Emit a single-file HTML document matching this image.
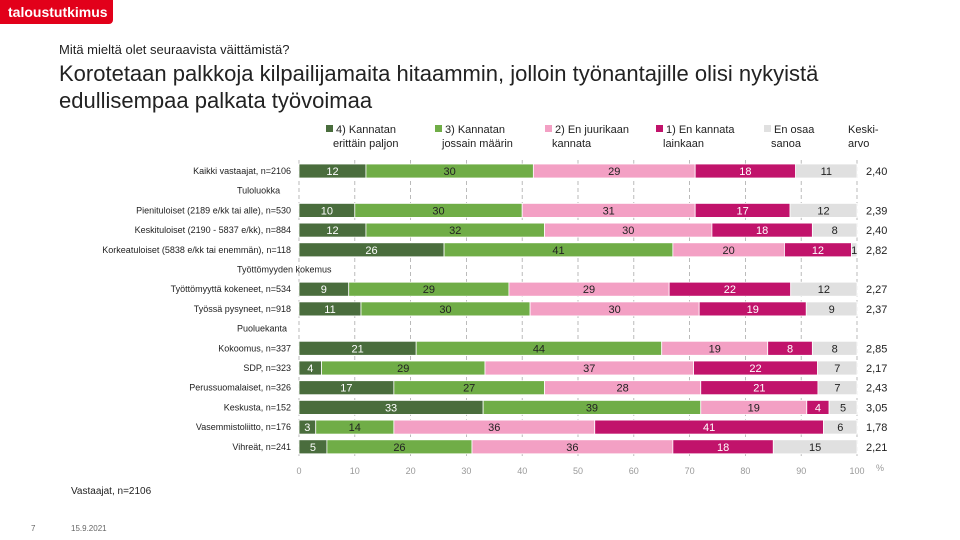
<!DOCTYPE html>
<html><head><meta charset="utf-8"><style>
body{margin:0;width:960px;height:540px;background:#fff;font-family:"Liberation Sans",sans-serif;position:relative;overflow:hidden}
.a{position:absolute;white-space:nowrap}
</style></head><body>
<div class="a" style="left:0;top:0;width:113px;height:24px;background:#e2001a;border-radius:0 0 4px 0;color:#fff;font-size:14px;font-weight:bold;line-height:24px;padding-left:8px;box-sizing:border-box">taloustutkimus</div>
<div class="a" style="left:59px;top:42px;font-size:13px;color:#222">Mitä mieltä olet seuraavista väittämistä?</div>
<div class="a" style="left:59px;top:60px;font-size:22px;line-height:27px;color:#222;white-space:normal;width:820px">Korotetaan palkkoja kilpailijamaita hitaammin, jolloin työnantajille olisi nykyistä edullisempaa palkata työvoimaa</div>
<div class="a" style="left:71px;top:486px;font-size:10px;color:#222">Vastaajat, n=2106</div>
<div class="a" style="left:31px;top:524px;font-size:8px;color:#666">7</div>
<div class="a" style="left:71px;top:524px;font-size:8px;color:#666">15.9.2021</div>
<svg id="c" class="a" style="left:0;top:0" width="960" height="540"></svg>
<script>
const categories=["Kaikki vastaajat, n=2106","Pienituloiset (2189 e/kk tai alle), n=530","Keskituloiset (2190 - 5837 e/kk), n=884","Korkeatuloiset (5838 e/kk tai enemmän), n=118","Työttömyyttä kokeneet, n=534","Työssä pysyneet, n=918","Kokoomus, n=337","SDP, n=323","Perussuomalaiset, n=326","Keskusta, n=152","Vasemmistoliitto, n=176","Vihreät, n=241"];
const rowSlots=[0,2,3,4,6,7,9,10,11,12,13,14];
const groups=[["Tuloluokka",1],["Työttömyyden kokemus",5],["Puoluekanta",8]];
const s4=[12,10,12,26,9,11,21,4,17,33,3,5];
const s3=[30,30,32,41,29,30,44,29,27,39,14,26];
const s2=[29,31,30,20,29,30,19,37,28,19,36,36];
const s1=[18,17,18,12,22,19,8,22,21,4,41,18];
const s0=[11,12,8,1,12,9,8,7,7,5,6,15];
const means=["2,40","2,39","2,40","2,82","2,27","2,37","2,85","2,17","2,43","3,05","1,78","2,21"];
const seriesNames=["4) Kannatan|erittäin paljon","3) Kannatan|jossain määrin","2) En juurikaan|kannata","1) En kannata|lainkaan","En osaa|sanoa"];
const ticks=[0,10,20,30,40,50,60,70,80,90,100];
const colors=["#4a6d3d","#70ad47","#f3a0c4","#c1136b","#e0e0e0"];
const txt=["#fff","#222","#222","#fff","#222"];
const svg=document.getElementById('c');const NS="http://www.w3.org/2000/svg";
const x0=299,x1=857;const xs=v=>x0+(x1-x0)*v/100;const ys=i=>171+i*19.7;
function mk(t,a,p){const e=document.createElementNS(NS,t);for(const k in a)e.setAttribute(k,a[k]);(p||svg).appendChild(e);return e;}
ticks.forEach(t=>{const g=mk('line',{x1:xs(t),x2:xs(t),y1:160,y2:456,stroke:'#aaa','stroke-dasharray':'4,3','stroke-width':0.8});

const l=mk('text',{x:xs(t),y:474,'font-size':9,fill:'#999','text-anchor':'middle'});l.textContent=t;
});
const pc=mk('text',{x:876,y:471,'font-size':9,fill:'#999'});pc.textContent='%';

groups.forEach(g=>{const t=mk('text',{x:237,y:ys(g[1])+3,'font-size':9,fill:'#222'});t.textContent=g[0];
});
const S=[s4,s3,s2,s1,s0];
categories.forEach((c,i)=>{const y=ys(rowSlots[i]);
const l=mk('text',{x:291,y:y+3,'font-size':9,fill:'#222','text-anchor':'end'});l.textContent=c;

const tot=S.reduce((a,s)=>a+s[i],0);let acc=0;
S.forEach((s,k)=>{const v=s[i];const xa=xs(acc/tot*100),xb=xs((acc+v)/tot*100);acc+=v;
const r=mk('rect',{x:xa,y:y-7,width:xb-xa,height:14,fill:colors[k],stroke:'#fff','stroke-width':0.8});

const t=mk('text',{x:(xa+xb)/2,y:y+4,'font-size':11,fill:txt[k],'text-anchor':'middle'});t.textContent=v;
});
const m=mk('text',{x:866,y:y+4,'font-size':11,fill:'#222'});m.textContent=means[i];
});
const lx=[326,435,545,656,764];
seriesNames.forEach((n,k)=>{const r=mk('rect',{x:lx[k],y:125,width:7,height:7,fill:colors[k]});

n.split('|').forEach((p,j)=>{const t=mk('text',{x:lx[k]+(j?7:10),y:133+j*14,'font-size':11,fill:'#222'});t.textContent=p;
});});
['Keski-','arvo'].forEach((p,j)=>{const t=mk('text',{x:848,y:133+j*14,'font-size':11,fill:'#222'});t.textContent=p;
});
</script>
</body></html>
